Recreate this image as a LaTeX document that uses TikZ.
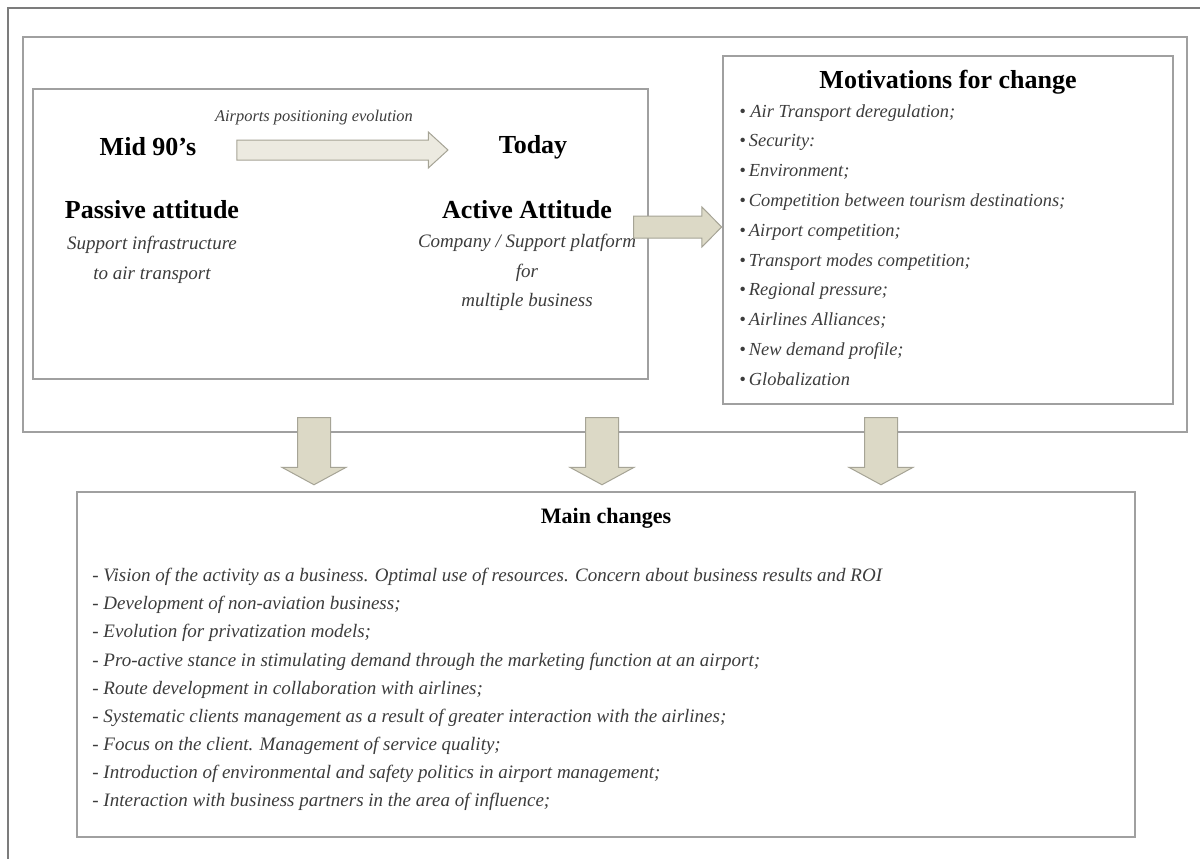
\documentclass[tikz,border=0pt]{standalone}
\usepackage{fontspec}
\setmainfont{Liberation Serif}
\usetikzlibrary{shapes.arrows, fit, calc, positioning}
\definecolor{frame}{HTML}{A0A0A0}
\definecolor{outer}{HTML}{7C7C7C}
\definecolor{arr}{HTML}{DCD9C6}
\definecolor{arrl}{HTML}{ECEAE0}
\definecolor{arredge}{HTML}{A6A496}
\definecolor{txt}{HTML}{3C3C3C}
\tikzset{
  box/.style={draw=frame, line width=0.7pt, inner sep=0pt, fill=white},
  hd/.style={font=\fontsize{13}{15}\selectfont\bfseries, inner sep=0pt},
  it/.style={font=\fontsize{9.5}{14.9}\selectfont\itshape, text=txt, align=center, inner sep=0pt},
  lst/.style={it, align=left, anchor=north west},
  blk/.style={single arrow, draw=arredge, fill=arr, line width=0.5pt, inner xsep=0pt},
}
\begin{document}
\begin{tikzpicture}[x=0.5pt, y=-0.5pt]
\clip (0,0) rectangle (1200,858);
\fill[white] (0,0) rectangle (1200,858);
\draw[outer, line width=1pt] (8,8) rectangle (1230,900);

% top part
\node[box, fit={(23,37) (1187,432)}] (top) {};
\node[box, fit={(33,89) (648,379)}] (evo) {};
\node[box, fit={(723,56) (1173,404)}] (mot) {};

\node[hd] (mid) at (148,147) {Mid 90's};
\node[hd] (today) at (533,147) {Today};
\node[it, font=\fontsize{8.2}{10}\selectfont\itshape] (cap) at (314,118) {Airports positioning evolution};
\node[blk, fill=arrl, minimum height=105.5pt, inner ysep=4.75pt,
      single arrow head extend=4pt, single arrow tip angle=85] (evoarrow) at (337,150) {};

\node[hd] (passive) at (152,210) {Passive attitude};
\node[it, below=8pt of passive] (passivetxt) {Support infrastructure\\to air transport};
\node[hd] (active) at (527,210) {Active Attitude};
\node[it, below=7pt of active] (activetxt) {Company / Support platform\\for\\multiple business};

\coordinate (c2) at (0,227);
\node[blk, minimum height=44pt, inner ysep=5.25pt, single arrow head extend=4.5pt,
      single arrow tip angle=91, anchor=tip] (push) at (mot.west |- c2) {};

\node[hd] (mottitle) at (948,82) {Motivations for change};
\node[lst, font=\fontsize{9.2}{14.9}\selectfont\itshape] (motlist) at (739,104) {%
\textbullet\ Air Transport deregulation;\\
\textbullet\,Security:\\
\textbullet\,Environment;\\
\textbullet\,Competition between tourism destinations;\\
\textbullet\,Airport competition;\\
\textbullet\,Transport modes competition;\\
\textbullet\,Regional pressure;\\
\textbullet\,Airlines Alliances;\\
\textbullet\,New demand profile;\\
\textbullet\,Globalization};

% bottom part
\node[box, fit={(77,492) (1135,837)}] (main) {};
\node[hd, font=\fontsize{11}{13}\selectfont\bfseries] (maintitle) at (606,518) {Main changes};
\node[lst, font=\fontsize{9.5}{14.05}\selectfont\itshape] (mainlist) at (92,568) {%
- Vision of the activity as a business. Optimal use of resources. Concern about business results and ROI\\
- Development of non-aviation business;\\
- Evolution for privatization models;\\
- Pro-active stance in stimulating demand through the marketing function at an airport;\\
- Route development in collaboration with airlines;\\
- Systematic clients management as a result of greater interaction with the airlines;\\
- Focus on the client. Management of service quality;\\
- Introduction of environmental and safety politics in airport management;\\
- Interaction with business partners in the area of influence;};

\foreach \x [count=\i] in {314,602,881}
  \node[blk, shape border rotate=270, minimum height=33.5pt, inner xsep=8pt, inner ysep=0pt,
        single arrow head extend=7.75pt, single arrow tip angle=123, anchor=tip]
        (down\i) at ([yshift=3pt]main.north -| \x,0) {};
\end{tikzpicture}
\end{document}
